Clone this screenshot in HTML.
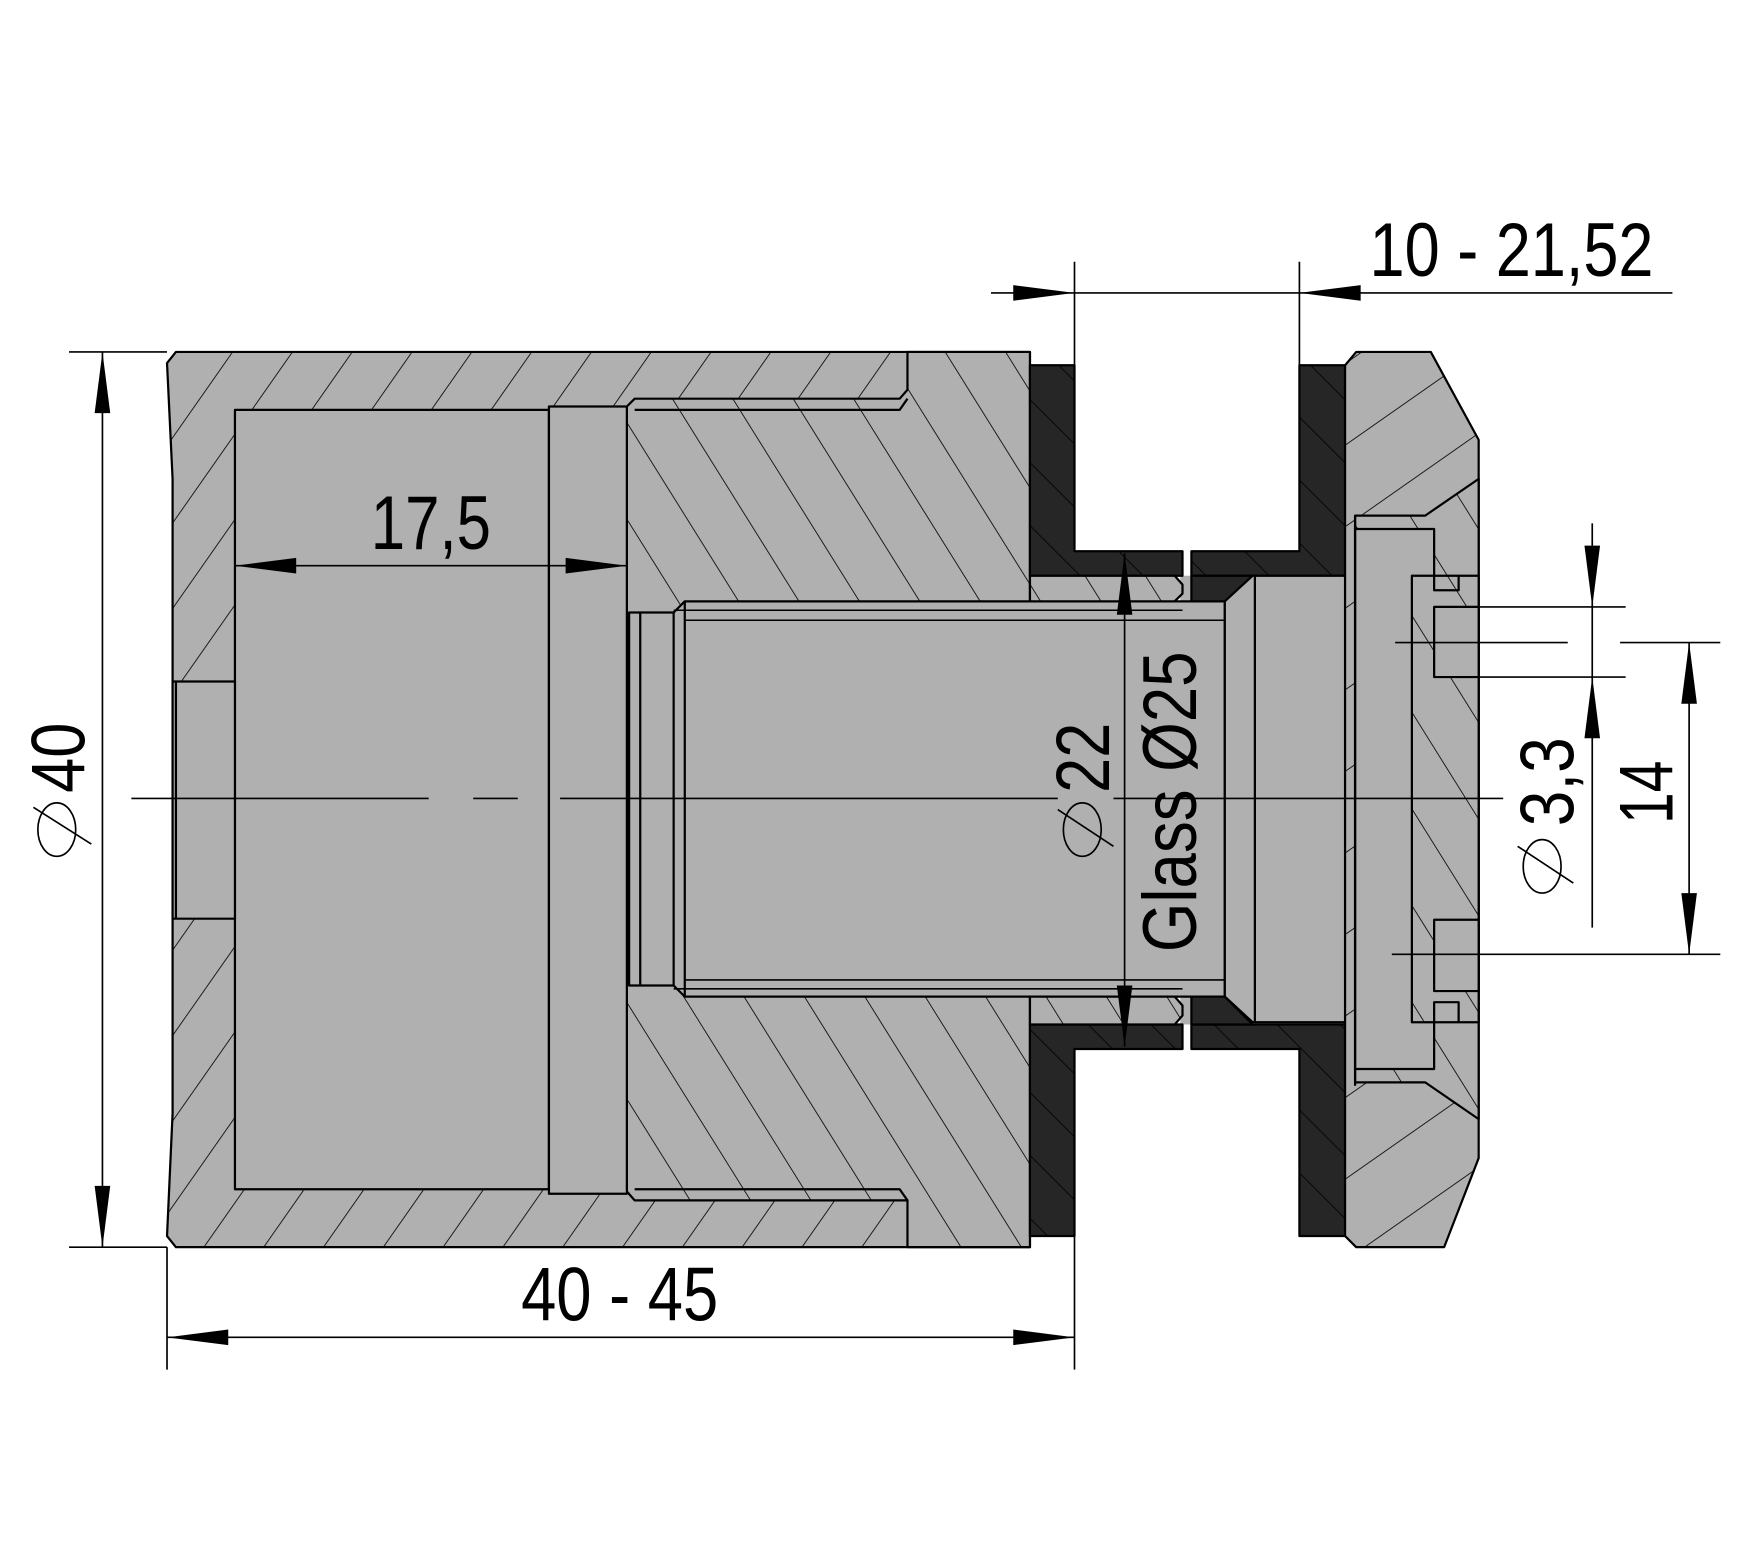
<!DOCTYPE html>
<html><head><meta charset="utf-8"><style>html,body{margin:0;padding:0;background:#fff}svg{display:block}</style></head>
<body>
<svg width="1737" height="1559" viewBox="0 0 1560 1400" xmlns="http://www.w3.org/2000/svg" font-family="'Liberation Sans', sans-serif">
<defs>
<pattern id="hf" patternUnits="userSpaceOnUse" width="44" height="44" patternTransform="rotate(35)">
<rect width="44" height="44" fill="#b0b0b0"/><line x1="0" y1="0" x2="0" y2="44" stroke="#000" stroke-width="1.5"/></pattern>
<pattern id="hb" patternUnits="userSpaceOnUse" width="46" height="46" patternTransform="rotate(-32)">
<rect width="46" height="46" fill="#b0b0b0"/><line x1="0" y1="0" x2="0" y2="46" stroke="#000" stroke-width="1.5"/></pattern>
<pattern id="hk" patternUnits="userSpaceOnUse" width="40" height="40" patternTransform="rotate(-45)">
<rect width="40" height="40" fill="#262626"/><line x1="0" y1="0" x2="0" y2="40" stroke="#000" stroke-width="1.5"/></pattern>
<pattern id="hc" patternUnits="userSpaceOnUse" width="60" height="60" patternTransform="rotate(55)">
<rect width="60" height="60" fill="#b0b0b0"/><line x1="0" y1="0" x2="0" y2="60" stroke="#000" stroke-width="1.5"/></pattern>
</defs>
<g stroke="#000" stroke-width="2" stroke-linejoin="round">
<path d="M158,316 L925,316 L925,1120 L158,1120 L150,1110 L155,1000 L155,430 L150,326 Z" fill="url(#hf)"/>
<path d="M815,316 L925,316 L925,1120 L815,1120 L815,1078 L570,1078 L563,1070 L563,365 L570,358 L808,358 L815,350 Z" fill="url(#hb)"/>
<path d="M570,368 L808,368 L815,358" fill="none"/>
<path d="M570,1068 L808,1068 L815,1078" fill="none"/>
<rect x="211" y="368" width="282" height="700" fill="#b0b0b0"/>
<rect x="493" y="365" width="70" height="707" fill="#b0b0b0"/>
<rect x="155" y="612" width="56" height="213" fill="#b0b0b0"/>
<line x1="158" y1="612" x2="158" y2="825"/>
<rect x="1060" y="517" width="45" height="403" fill="#b0b0b0" stroke="none"/>
<path d="M565,550 L605,550 L615,540 L1100,540 L1100,895 L615,895 L605,885 L565,885 Z" fill="#b0b0b0"/>
<line x1="575" y1="550" x2="575" y2="885"/>
<line x1="605" y1="550" x2="605" y2="885"/>
<line x1="615" y1="540" x2="615" y2="895"/>
<line x1="605" y1="548" x2="1062" y2="548" stroke-width="1.4"/>
<line x1="615" y1="557" x2="1100" y2="557" stroke-width="1.4"/>
<line x1="615" y1="880" x2="1100" y2="880" stroke-width="1.4"/>
<line x1="605" y1="888" x2="1062" y2="888" stroke-width="1.4"/>
<path d="M925,328 L965,328 L965,495 L1062,495 L1062,517 L925,517 Z" fill="url(#hk)"/>
<path d="M1167,328 L1208,328 L1208,517 L1070,517 L1070,495 L1167,495 Z" fill="url(#hk)"/>
<path d="M925,1110 L965,1110 L965,942 L1062,942 L1062,920 L925,920 Z" fill="url(#hk)"/>
<path d="M1167,1110 L1208,1110 L1208,920 L1070,920 L1070,942 L1167,942 Z" fill="url(#hk)"/>
<path d="M925,517 L1055,517 L1062,525 L1062,533 L1055,540 L925,540 Z" fill="url(#hb)"/>
<path d="M925,920 L1055,920 L1062,912 L1062,903 L1055,895 L925,895 Z" fill="url(#hb)"/>
<path d="M1070,517 L1125,517 L1100,540 L1070,540 Z" fill="#262626"/>
<path d="M1070,920 L1125,920 L1100,895 L1070,895 Z" fill="#262626"/>
<path d="M1100,540 L1125,517 L1217,517 L1217,918 L1125,918 L1100,895 Z" fill="#b0b0b0"/>
<line x1="1127" y1="517" x2="1127" y2="918"/>
<path d="M1208,328 L1218,316 L1285,316 L1328,395 L1328,1040 L1297,1120 L1218,1120 L1208,1110 Z" fill="url(#hc)"/>
<path d="M1217,463 L1280,463 L1328,430 L1328,1005 L1280,972 L1217,972 Z" fill="url(#hb)"/>
<rect x="1217" y="475" width="71" height="485" fill="#b0b0b0"/>
<line x1="1217" y1="463" x2="1217" y2="975"/>
<rect x="1268" y="517" width="60" height="401" fill="url(#hb)"/>
<rect x="1288" y="545" width="40" height="63" fill="#b0b0b0"/>
<rect x="1288" y="826" width="40" height="64" fill="#b0b0b0"/>
<path d="M1288,517 L1288,530 L1310,530 L1310,517" fill="none"/>
<path d="M1288,918 L1288,900 L1310,900 L1310,918" fill="none"/>
</g>
<g stroke="#000" stroke-width="1.5" fill="none">
<line x1="118" y1="717" x2="385" y2="717"/><line x1="425" y1="717" x2="465" y2="717"/><line x1="503" y1="717" x2="950" y2="717"/><line x1="1000" y1="717" x2="1350" y2="717"/>
<line x1="890" y1="263" x2="1502" y2="263"/>
<line x1="965" y1="235" x2="965" y2="328"/><line x1="1167" y1="235" x2="1167" y2="328"/>
<line x1="62" y1="316" x2="150" y2="316"/><line x1="62" y1="1120" x2="150" y2="1120"/>
<line x1="92" y1="316" x2="92" y2="1120"/>
<line x1="150" y1="1120" x2="150" y2="1230"/><line x1="965" y1="1110" x2="965" y2="1230"/>
<line x1="150" y1="1201" x2="965" y2="1201"/>
<line x1="211" y1="508" x2="563" y2="508"/>
<line x1="1010" y1="497" x2="1010" y2="940"/>
<line x1="1430" y1="470" x2="1430" y2="833"/>
<line x1="1288" y1="545" x2="1460" y2="545"/><line x1="1288" y1="608" x2="1460" y2="608"/>
<line x1="1253" y1="577" x2="1408" y2="577"/><line x1="1455" y1="577" x2="1545" y2="577"/>
<line x1="1250" y1="857" x2="1545" y2="857"/>
<line x1="1517" y1="577" x2="1517" y2="857"/>
</g>
<g fill="#000">
<path d="M965,263 l-55,-7 v14 z"/><path d="M1167,263 l55,-7 v14 z"/>
<path d="M92,316 l-7,55 h14 z"/><path d="M92,1120 l-7,-55 h14 z"/>
<path d="M150,1201 l55,-7 v14 z"/><path d="M965,1201 l-55,-7 v14 z"/>
<path d="M211,508 l55,-7 v14 z"/><path d="M563,508 l-55,-7 v14 z"/>
<path d="M1010,497 l-7,55 h14 z"/><path d="M1010,940 l-7,-55 h14 z"/>
<path d="M1430,545 l-7,-55 h14 z"/><path d="M1430,608 l-7,55 h14 z"/>
<path d="M1517,577 l-7,55 h14 z"/><path d="M1517,857 l-7,-55 h14 z"/>
</g>
<g font-size="68" fill="#000">
<text x="1230" y="248" textLength="255" lengthAdjust="spacingAndGlyphs">10 - 21,52</text>
<text x="468" y="1186" textLength="177" lengthAdjust="spacingAndGlyphs">40 - 45</text>
<text x="333" y="493" textLength="108" lengthAdjust="spacingAndGlyphs">17,5</text>
<text transform="translate(76,712) rotate(-90)" textLength="63" lengthAdjust="spacingAndGlyphs">40</text>
<text transform="translate(996,712) rotate(-90)" textLength="63" lengthAdjust="spacingAndGlyphs">22</text>
<text transform="translate(1074,855) rotate(-90)" textLength="270" lengthAdjust="spacingAndGlyphs">Glass Ø25</text>
<text transform="translate(1413,742) rotate(-90)" textLength="80" lengthAdjust="spacingAndGlyphs">3,3</text>
<text transform="translate(1502,740) rotate(-90)" textLength="57" lengthAdjust="spacingAndGlyphs">14</text>
</g>
<g stroke="#000" stroke-width="1.5" fill="none">
<ellipse cx="51" cy="745" rx="17" ry="24"/><line x1="30" y1="725" x2="82" y2="758"/>
<ellipse cx="972" cy="745" rx="17" ry="24"/><line x1="950" y1="727" x2="1000" y2="760"/>
<ellipse cx="1385" cy="778" rx="17" ry="24"/><line x1="1363" y1="760" x2="1413" y2="793"/>
</g>
</svg>
</body></html>
